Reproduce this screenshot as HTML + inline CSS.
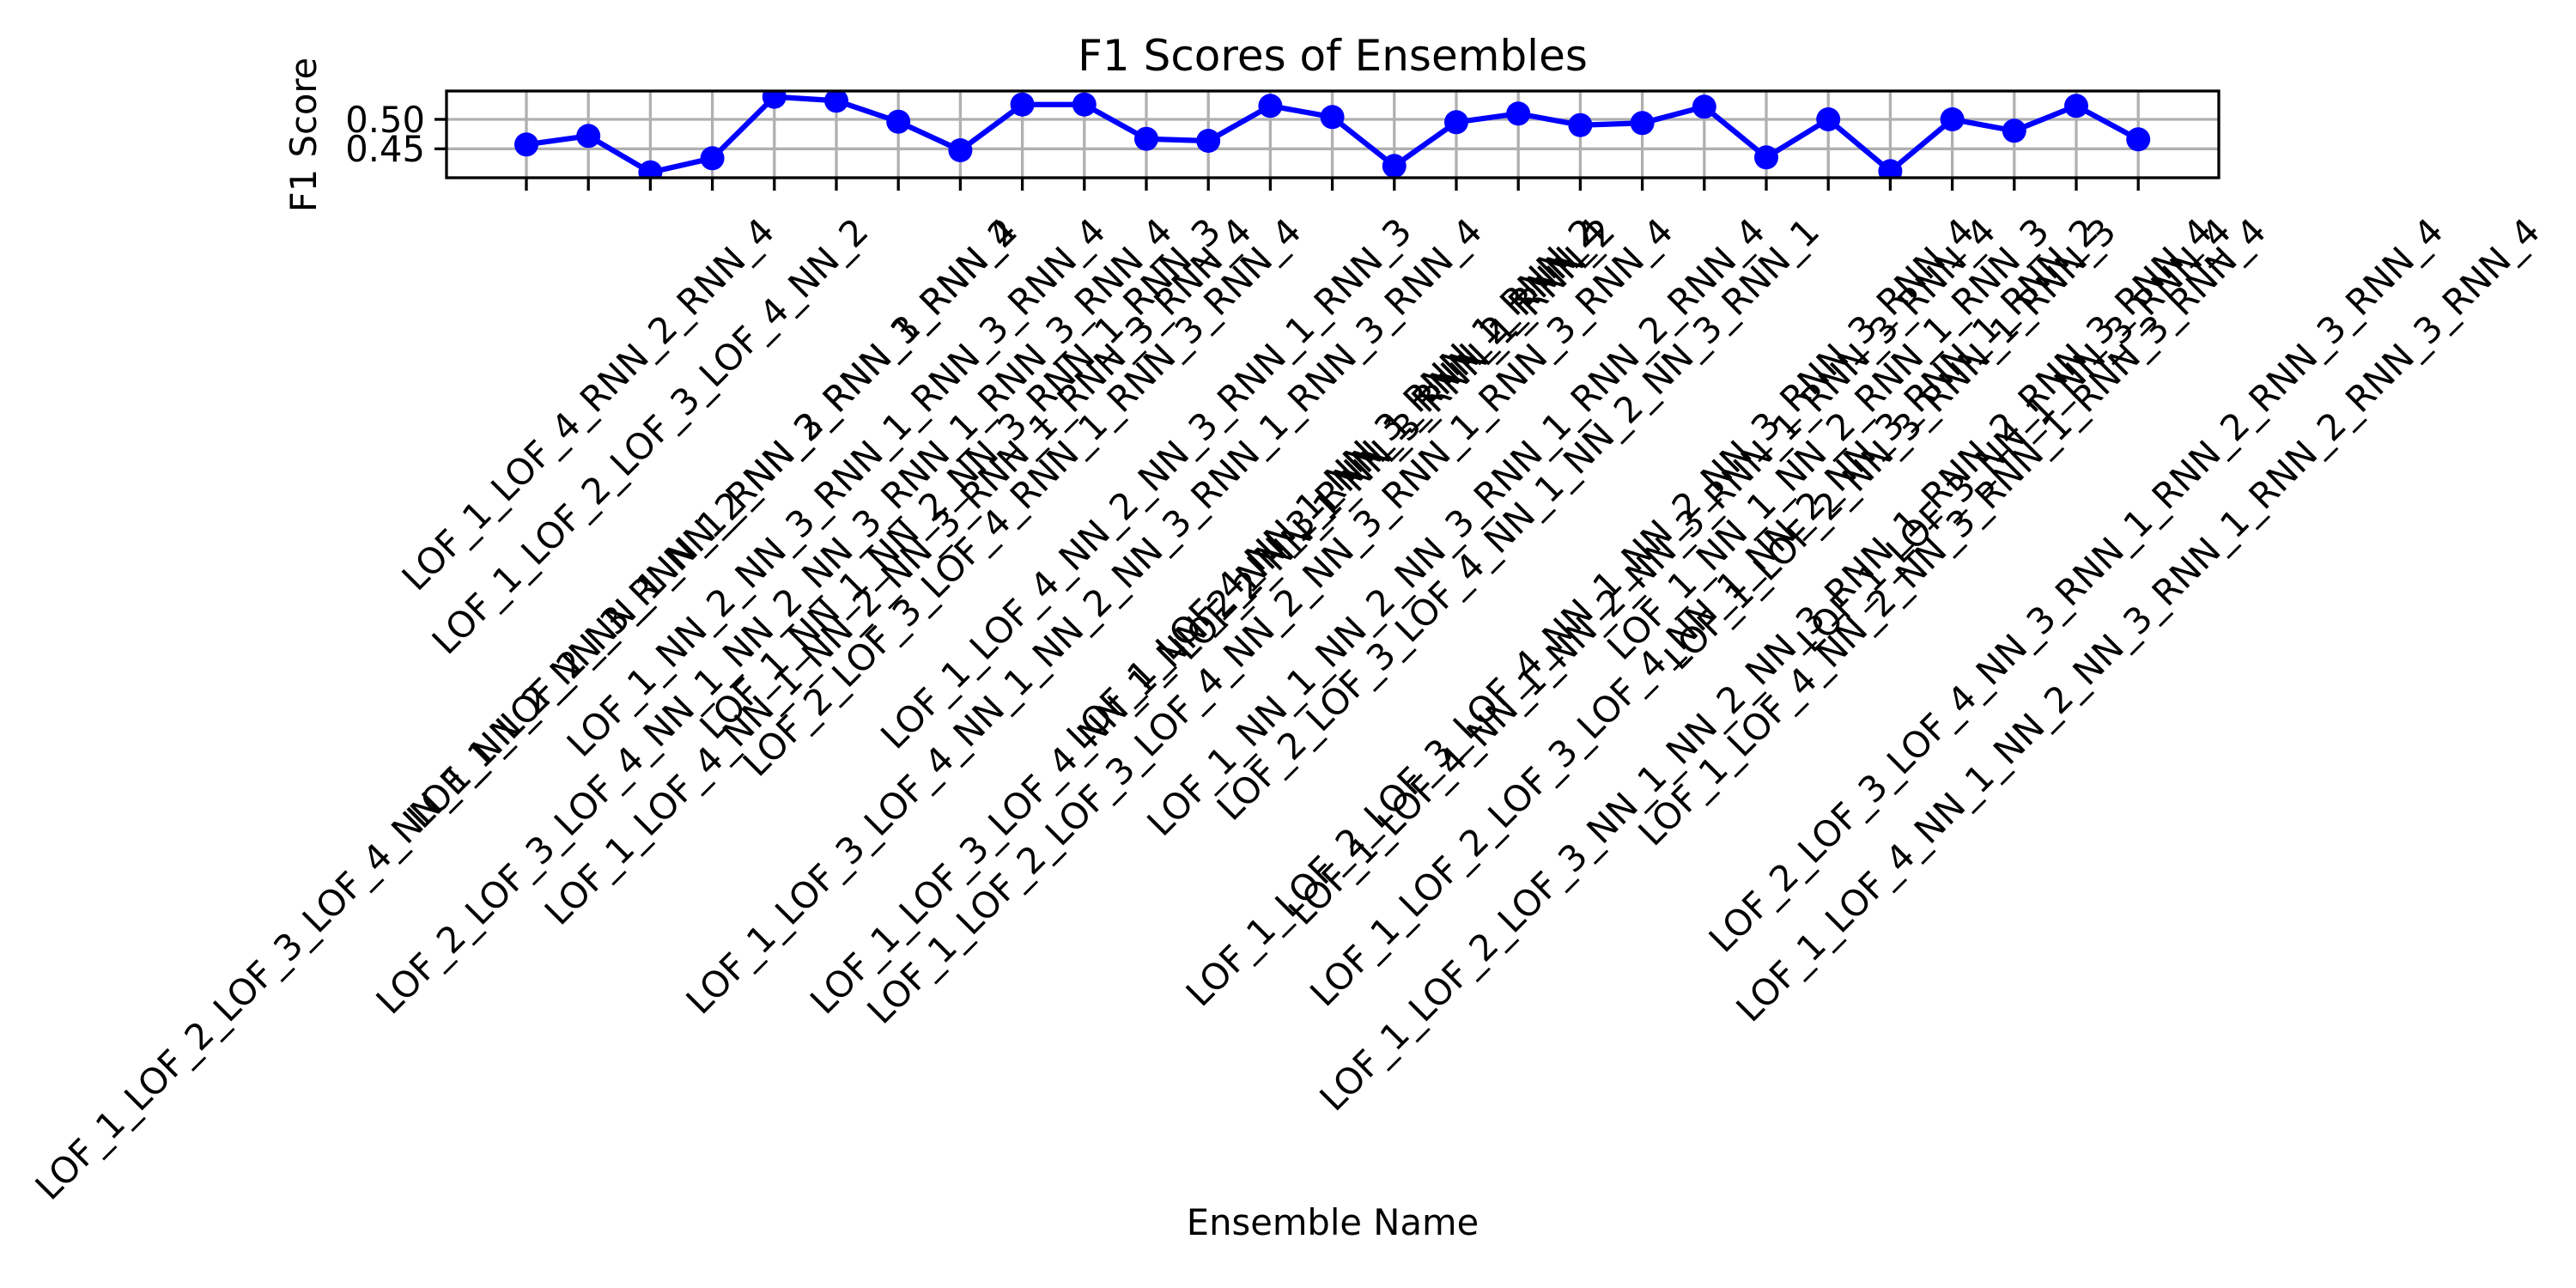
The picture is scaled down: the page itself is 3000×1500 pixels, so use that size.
<!DOCTYPE html>
<html><head><meta charset="utf-8"><style>
html,body{margin:0;padding:0;background:#fff;}
svg{display:block;}
text{font-family:"DejaVu Sans","Liberation Sans",sans-serif;fill:#000;}
</style></head><body>
<svg id="s" width="3000" height="1500" viewBox="0 0 3000 1500" xmlns="http://www.w3.org/2000/svg">
<rect width="3000" height="1500" fill="#fff"/>
<defs><clipPath id="c"><rect x="520" y="106" width="2064" height="101"/></clipPath></defs>
<g id="grid" stroke="#b0b0b0" stroke-width="3.3"></g>
<g id="ticks" stroke="#000" stroke-width="3.3"></g>
<g clip-path="url(#c)">
<polyline id="line" fill="none" stroke="#0000ff" stroke-width="6.25" stroke-linejoin="round"/>
<g id="marks" fill="#0000ff"></g>
</g>
<rect x="520" y="106" width="2064" height="101" fill="none" stroke="#000" stroke-width="3.3"/>
<line x1="506" y1="139" x2="520" y2="139" stroke="#000" stroke-width="3.3"/>
<line x1="506" y1="173.3" x2="520" y2="173.3" stroke="#000" stroke-width="3.3"/>
<text x="495" y="154" font-size="41.67" text-anchor="end">0.50</text>
<text x="495" y="188" font-size="41.67" text-anchor="end">0.45</text>
<text transform="translate(368,157) rotate(-90)" font-size="41.67" text-anchor="middle">F1 Score</text>
<text x="1552" y="82" font-size="50" text-anchor="middle">F1 Scores of Ensembles</text>
<text x="1552" y="1438" font-size="41.67" text-anchor="middle">Ensemble Name</text>
<g id="labels"></g>
</svg>
<script>
var ys=[168.3,158.3,200.7,184.3,112.7,117.3,141.7,175,121.7,121.7,161.7,164,123.3,136.3,193.3,142.3,132.3,145.7,143.3,124.3,183.3,139,199.3,139,152.3,123.3,162.3];
var labels=["LOF_1_LOF_2_LOF_3_LOF_4_NN_1_NN_2_NN_3_RNN_1_RNN_2_RNN_3_RNN_4",
"LOF_1_LOF_4_RNN_2_RNN_4",
"LOF_1_LOF_2_LOF_3_LOF_4_NN_2",
"LOF_1_LOF_2_NN_1_NN_2_NN_3_RNN_1_RNN_2",
"LOF_2_LOF_3_LOF_4_NN_1_NN_2_NN_3_RNN_1_RNN_3_RNN_4",
"LOF_1_NN_2_NN_3_RNN_1_RNN_3_RNN_4",
"LOF_1_LOF_4_NN_1_NN_2_NN_3_RNN_1_RNN_3_RNN_4",
"LOF_1_NN_1_NN_2_NN_3_RNN_1_RNN_3",
"LOF_2_LOF_3_LOF_4_RNN_1_RNN_3_RNN_4",
"LOF_1_LOF_3_LOF_4_NN_1_NN_2_NN_3_RNN_1_RNN_3_RNN_4",
"LOF_1_LOF_4_NN_2_NN_3_RNN_1_RNN_3",
"LOF_1_LOF_3_LOF_4_NN_1_NN_2_NN_3_RNN_1_RNN_2_RNN_4",
"LOF_1_LOF_2_LOF_3_LOF_4_NN_2_NN_3_RNN_1_RNN_3_RNN_4",
"LOF_1_LOF_4_NN_1_NN_3_RNN_1_RNN_2",
"LOF_2_NN_1_NN_3_RNN_1_RNN_2",
"LOF_1_NN_1_NN_2_NN_3_RNN_1_RNN_2_RNN_4",
"LOF_2_LOF_3_LOF_4_NN_1_NN_2_NN_3_RNN_1",
"LOF_1_LOF_2_LOF_3_LOF_4_NN_1_NN_2_NN_3_RNN_3_RNN_4",
"LOF_1_LOF_4_NN_1_NN_2_NN_3_RNN_1_RNN_3_RNN_4",
"LOF_1_LOF_2_LOF_3_LOF_4_NN_1_NN_2_NN_3_RNN_1_RNN_2",
"LOF_1_LOF_2_LOF_3_NN_1_NN_2_NN_3_RNN_1_RNN_2_RNN_3_RNN_4",
"LOF_1_NN_1_NN_2_RNN_1_RNN_3",
"LOF_1_LOF_2_NN_3_RNN_1_RNN_3",
"LOF_1_LOF_4_NN_2_NN_3_RNN_1_RNN_3_RNN_4",
"LOF_1_LOF_3_NN_1_NN_3_RNN_4",
"LOF_2_LOF_3_LOF_4_NN_3_RNN_1_RNN_2_RNN_3_RNN_4",
"LOF_1_LOF_4_NN_1_NN_2_NN_3_RNN_1_RNN_2_RNN_3_RNN_4"];
var NS="http://www.w3.org/2000/svg";
function el(n,a,p){var e=document.createElementNS(NS,n);for(var k in a)e.setAttribute(k,a[k]);p.appendChild(e);return e;}
var grid=document.getElementById('grid'),ticks=document.getElementById('ticks'),marks=document.getElementById('marks'),lab=document.getElementById('labels');
el('line',{x1:520,y1:139,x2:2584,y2:139},grid);
el('line',{x1:520,y1:173.3,x2:2584,y2:173.3},grid);
var pts=[];
for(var i=0;i<27;i++){
 var x=613+i*72.2;
 el('line',{x1:x,y1:106,x2:x,y2:207},grid);
 el('line',{x1:x,y1:207,x2:x,y2:222},ticks);
 pts.push(x+','+ys[i]);
 el('circle',{cx:x,cy:ys[i],r:14},marks);
 var g=el('g',{},lab);
 var t=el('text',{x:0,y:14,'font-size':'41.67','text-anchor':'middle'},g);
 t.textContent=labels[i];
 var L=t.getComputedTextLength();
 var W=(L+48.5)/Math.SQRT2;
 g.setAttribute('transform','translate('+x+','+(245+W/2)+') rotate(-45)');
}
document.getElementById('line').setAttribute('points',pts.join(' '));
</script>
</body></html>
